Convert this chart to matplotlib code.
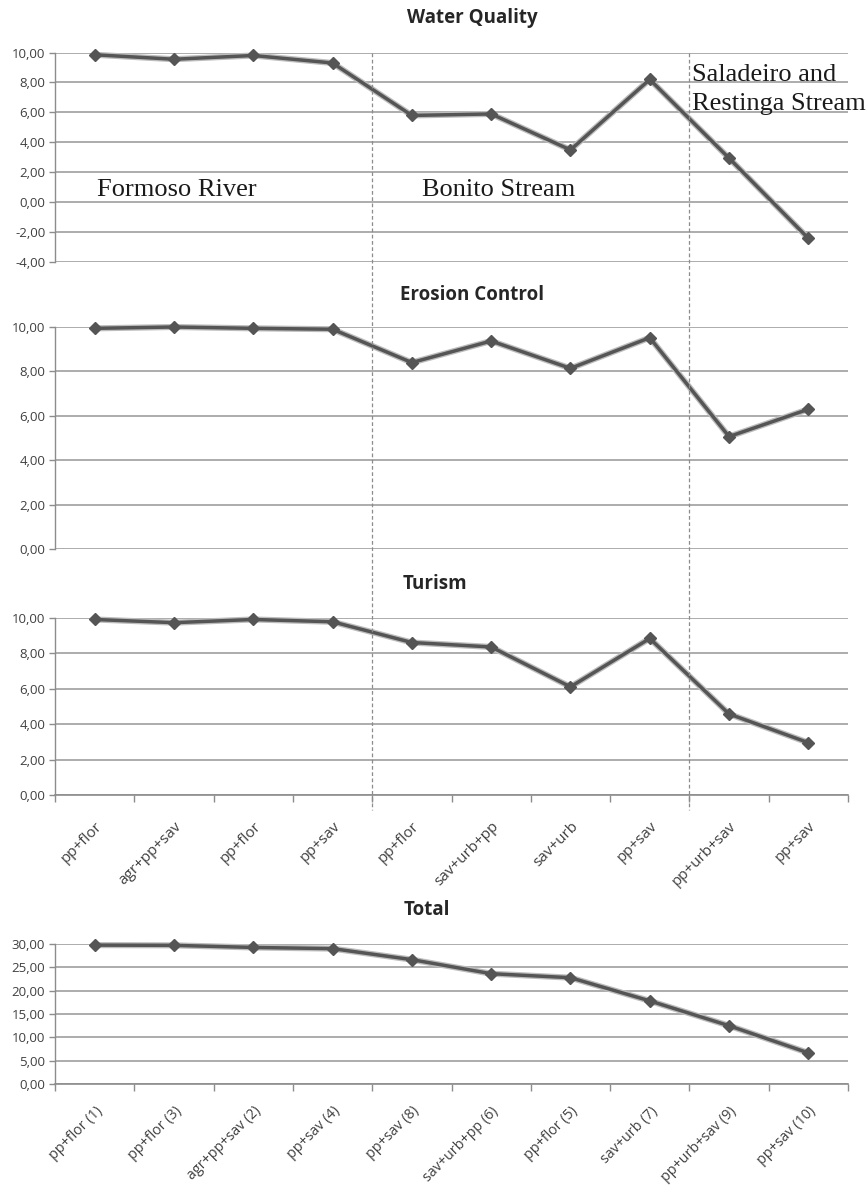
import matplotlib
matplotlib.use("Agg")
import matplotlib.pyplot as plt
from matplotlib.ticker import FuncFormatter, FixedLocator
from matplotlib.lines import Line2D

# ---------------- data ----------------
site_labels = ["pp+flor", "agr+pp+sav", "pp+flor", "pp+sav", "pp+flor",
               "sav+urb+pp", "sav+urb", "pp+sav", "pp+urb+sav", "pp+sav"]
water_quality = [9.85, 9.55, 9.80, 9.30, 5.80, 5.90, 3.50, 8.20, 2.95, -2.40]
erosion_control = [9.94, 10.00, 9.94, 9.90, 8.40, 9.37, 8.14, 9.52, 5.07, 6.30]
turism = [9.90, 9.72, 9.90, 9.77, 8.60, 8.35, 6.10, 8.83, 4.57, 2.95]

total_labels = ["pp+flor (1)", "pp+flor (3)", "agr+pp+sav (2)", "pp+sav (4)",
                "pp+sav (8)", "sav+urb+pp (6)", "pp+flor (5)", "sav+urb (7)",
                "pp+urb+sav (9)", "pp+sav (10)"]
total = [29.70, 29.65, 29.20, 28.95, 26.60, 23.60, 22.75, 17.80, 12.50, 6.70]

region_names = ["Formoso River", "Bonito Stream", "Saladeiro and\nRestinga Stream"]

# ---------------- style ----------------
FIG_W, FIG_H = 866, 1189
DPI = 100
plt.rcParams['font.family'] = ['Open Sans', 'DejaVu Sans']
LINE_C = "#555555"
GRID_C = "#a6a6a6"
TXT_C = "#404040"

fig = plt.figure(figsize=(FIG_W / DPI, FIG_H / DPI), dpi=DPI)
fig.patch.set_facecolor("white")


def px_rect(left, top, right, bottom):
    return [left / FIG_W, 1 - bottom / FIG_H, (right - left) / FIG_W, (bottom - top) / FIG_H]


def fmt(v, pos):
    return f"{v:.2f}".replace(".", ",")


def style_axes(ax, ylo, yhi, step, show_x=False, labels=None, pad=12, xsize=11):
    n = 10
    ax.set_xlim(-0.5, n - 0.5)
    ax.set_ylim(ylo, yhi)
    ax.yaxis.set_major_locator(FixedLocator([ylo + i * step for i in range(int(round((yhi - ylo) / step)) + 1)]))
    ax.yaxis.set_major_formatter(FuncFormatter(fmt))
    ax.grid(axis="y", color=GRID_C, lw=1.3)
    ax.set_axisbelow(True)
    for s in ["top", "right"]:
        ax.spines[s].set_visible(False)
    ax.spines["left"].set_color("#8c8c8c")
    ax.spines["left"].set_linewidth(1.0)
    ax.tick_params(axis="y", colors="#8c8c8c", labelcolor=TXT_C, labelsize=9.5, length=4, width=1.0, pad=3)
    if show_x:
        ax.spines["bottom"].set_color("#8c8c8c")
        ax.spines["bottom"].set_linewidth(1.2)
        ax.set_xticks(range(n))
        ax.set_xticklabels(labels, rotation=45, ha="right", rotation_mode="anchor",
                           fontsize=xsize, color=TXT_C)
        ax.tick_params(axis="x", length=0, pad=pad)
        ax.set_xticks([i - 0.5 for i in range(n + 1)], minor=True)
        ax.tick_params(axis="x", which="minor", length=5, width=1.0, colors="#8c8c8c")
    else:
        ax.spines["bottom"].set_visible(False)
        ax.set_xticks([])


def draw_series(ax, vals):
    x = list(range(len(vals)))
    # soft halo under the line (Excel-style shadow)
    ax.plot(x, vals, color="#bdbdbd", lw=4.4, clip_on=False, zorder=4, solid_capstyle="round")
    ax.plot(x, vals, color=LINE_C, lw=2.5, marker="D", markersize=6.2,
            markerfacecolor=LINE_C, markeredgecolor=LINE_C, clip_on=False, zorder=5)


L, R = 55, 848
ax_w = fig.add_axes(px_rect(L, 52.5, R, 262.3))
ax_e = fig.add_axes(px_rect(L, 327, R, 549.3))
ax_t = fig.add_axes(px_rect(L, 617.7, R, 795))
ax_tot = fig.add_axes(px_rect(L, 943.7, R, 1084.3))

style_axes(ax_w, -4, 10, 2)
style_axes(ax_e, 0, 10, 2)
style_axes(ax_t, 0, 10, 2, show_x=True, labels=site_labels, pad=17, xsize=11)
style_axes(ax_tot, 0, 30, 5, show_x=True, labels=total_labels, pad=14, xsize=10.3)

draw_series(ax_w, water_quality)
draw_series(ax_e, erosion_control)
draw_series(ax_t, turism)
draw_series(ax_tot, total)

# titles
title_kw = dict(fontsize=13.5, fontweight="bold", color="#262626", ha="center", va="center")
fig.text(472 / FIG_W, 1 - 18 / FIG_H, "Water Quality", **title_kw)
fig.text(472 / FIG_W, 1 - 295 / FIG_H, "Erosion Control", **title_kw)
fig.text(435 / FIG_W, 1 - 584 / FIG_H, "Turism", **title_kw)
fig.text(427 / FIG_W, 1 - 910 / FIG_H, "Total", **title_kw)

# region annotations
serif_kw = dict(family=["Liberation Serif", "DejaVu Serif"], fontsize=19, color="#1a1a1a",
                ha="left", va="center", clip_on=False)
ax_w.text(0.03, 0.85, region_names[0], **serif_kw)
ax_w.text(4.13, 0.85, region_names[1], **serif_kw)
ax_w.text(7.53, 7.55, region_names[2], linespacing=1.42, **serif_kw)

# dashed separators spanning the three upper charts
for xb in [3.5, 7.5]:
    x_disp, y_top = ax_w.transData.transform((xb, 10))
    y_bot = (FIG_H - 810)
    fig.add_artist(Line2D([x_disp / FIG_W, x_disp / FIG_W], [y_top / FIG_H, y_bot / FIG_H],
                          transform=fig.transFigure, color="#8c8c8c", lw=0.9,
                          linestyle=(0, (3, 2)), zorder=10))

fig.savefig("out.png", dpi=DPI, facecolor="white")
